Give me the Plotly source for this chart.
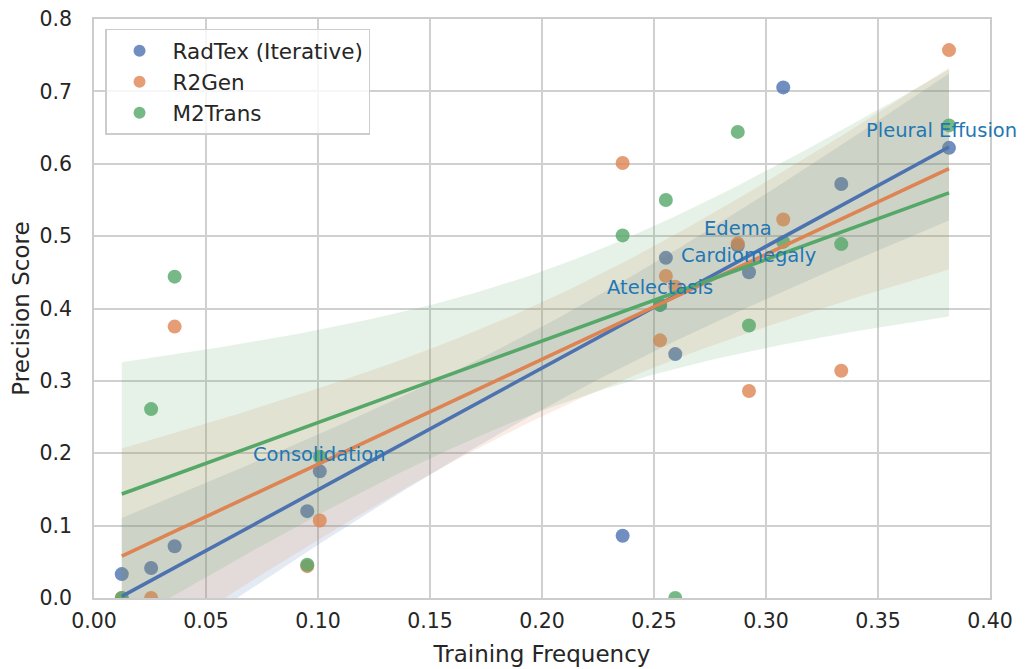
import numpy as np
import plotly.graph_objects as go

# Training frequency for each finding (shared by all models)
train_freq = [0.0124, 0.0255, 0.0360, 0.0952, 0.1008, 0.2360, 0.2527,
              0.2553, 0.2595, 0.2874, 0.2924, 0.3077, 0.3336, 0.3817]

# Precision scores per model
radtex = [0.033, 0.0415, 0.0715, 0.120, 0.175, 0.086, 0.405,
          0.470, 0.337, 0.487, 0.450, 0.7055, 0.572, 0.622]
r2gen = [0.0, 0.0, 0.375, 0.044, 0.107, 0.601, 0.356,
         0.445, 0.430, 0.490, 0.286, 0.523, 0.314, 0.757]
m2trans = [0.0, 0.261, 0.444, 0.046, 0.195, 0.501, 0.405,
           0.550, 0.0, 0.644, 0.3765, 0.492, 0.489, 0.653]

model_names = ["RadTex (Iterative)", "R2Gen", "M2Trans"]
model_colors = ["#4C72B0", "#DD8452", "#55A868"]
band_colors = ["rgba(76,114,176,0.15)", "rgba(221,132,82,0.15)", "rgba(85,168,104,0.15)"]

# Labelled findings (placed at RadTex points)
label_names = ["Consolidation", "Atelectasis", "Edema", "Cardiomegaly", "Pleural Effusion"]
label_idx = [4, 6, 9, 10, 13]

FONT = "DejaVu Sans"
TXT = "#262626"

fig = go.Figure()
x = np.array(train_freq)
fits = []
for name, vals, col, bcol in zip(model_names, [radtex, r2gen, m2trans], model_colors, band_colors):
    y = np.array(vals)
    fig.add_trace(go.Scatter(
        x=x, y=y, mode="markers", name=name,
        marker=dict(size=14, color=col, opacity=0.8, line=dict(width=0)),
        showlegend=True))
    n = len(x)
    b, a = np.polyfit(x, y, 1)
    grid = np.linspace(x.min(), x.max(), 100)
    yhat = a + b * grid
    res = y - (a + b * x)
    s = np.sqrt(np.sum(res ** 2) / (n - 2))
    sxx = np.sum((x - x.mean()) ** 2)
    hw = 1.96 * s * np.sqrt(1.0 / n + (grid - x.mean()) ** 2 / sxx)
    fig.add_trace(go.Scatter(
        x=np.concatenate([grid, grid[::-1]]),
        y=np.concatenate([yhat + hw, (yhat - hw)[::-1]]),
        fill="toself", fillcolor=bcol, line=dict(width=0),
        mode="lines", showlegend=False, hoverinfo="skip"))
    fits.append((grid, yhat, col))

# regression lines sit above all bands and points
for grid, yhat, col in fits:
    fig.add_trace(go.Scatter(
        x=grid, y=yhat, mode="lines", line=dict(color=col, width=3.6),
        showlegend=False))

for lab, i in zip(label_names, label_idx):
    # keep the right-most label inside the page edge
    xs = -8 if lab == "Pleural Effusion" else 0
    fig.add_annotation(x=train_freq[i], y=radtex[i], text=lab, showarrow=False,
                       xanchor="center", yanchor="middle", yshift=17, xshift=xs,
                       font=dict(family=FONT, size=19.5, color="#1f77b4"))

axis_common = dict(showgrid=True, gridcolor="#d0d0d0", gridwidth=1.5,
                   showline=True, linecolor="#cccccc", linewidth=1.5, mirror=True,
                   zeroline=False, ticks="outside", tickcolor="rgba(0,0,0,0)",
                   automargin=False, ticklabeloverflow="allow",
                   tickfont=dict(family=FONT, size=20.5, color=TXT))

# page body has an 8px margin, so the figure is offset by it
fig.update_layout(
    width=1010, height=661,
    margin=dict(l=86, r=28, t=11, b=71, autoexpand=False),
    paper_bgcolor="white", plot_bgcolor="white",
    font=dict(family=FONT, color=TXT),
    xaxis=dict(range=[0, 0.4], dtick=0.05, tickformat=".2f", ticklen=4,
               title=dict(text="Training Frequency", standoff=14,
                          font=dict(family=FONT, size=23, color=TXT)),
               **axis_common),
    yaxis=dict(range=[0, 0.8], dtick=0.1, tickformat=".1f", ticklen=16,
               title=dict(text="Precision Score", standoff=4,
                          font=dict(family=FONT, size=23, color=TXT)),
               **axis_common),
    legend=dict(x=0.0123, y=0.983, xanchor="left", yanchor="top",
                bgcolor="rgba(255,255,255,0.8)", bordercolor="#cccccc", borderwidth=1.5,
                font=dict(family=FONT, size=21.5, color=TXT),
                itemwidth=56, itemsizing="constant", tracegroupgap=0),
)

fig.write_html("out.html")
